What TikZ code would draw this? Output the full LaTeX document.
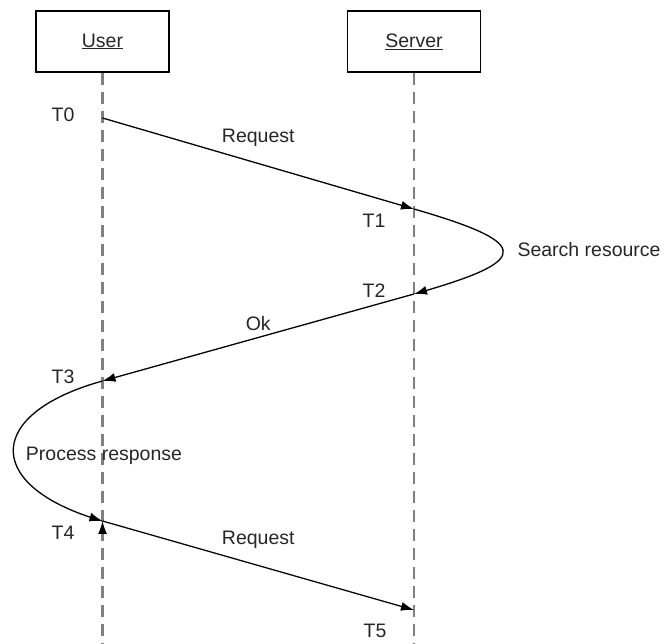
\documentclass[tikz,border=0pt]{standalone}
\usepackage{fontspec}
\setmainfont{Liberation Sans}
\usetikzlibrary{arrows.meta,bending}
\tikzset{
  obj/.style={
    draw,
    line width=1.8pt,
    minimum width=133pt,
    minimum height=61pt},
  life/.style={
    gray,
    line width=2.2pt,
    dash pattern=on 12pt off 7pt},
  msg/.style={
    -{Latex[length=13pt,width=9pt]},
    line width=1.3pt}
  }

\begin{document}
\begin{tikzpicture}[x=1pt,y=-1pt,font=\fontsize{19.5}{23}\selectfont,text=black!85]
    \useasboundingbox (0,0) rectangle (665,644);
    \node[obj] (user) at (102.5,41.5) {\underline{User}};
    \node[obj] (server) at (414,41.5) {\underline{Server}};
    \coordinate (userend) at (102.5,644);
    \coordinate (serverend) at (414,644);
    \draw [life]
    (user) edge[] (userend)
    (server) edge[] (serverend);
    \coordinate (t0) at (102.5,118);
    \coordinate (t1) at (414,209);
    \coordinate (t2) at (414,294);
    \coordinate (t3) at (102.5,381);
    \coordinate (t4) at (102.5,521);
    \coordinate (t5) at (414,610);
    \draw [msg]
    (t0) edge[] node[above=13pt]{Request} (t1)
    (t2) edge[] node[above=3pt]{Ok} (t3)
    (t4) edge[] node[above=13pt]{Request} (t5);
    \draw [msg] (t1) .. controls +(119,34.5) and +(119,-33.5) .. (t2);
    \draw [msg] (t3) .. controls +(-119,33) and +(-119,-34) .. (t4);
    \node[anchor=west] (search) at (514,250) {Search resource};
    \node (process) at (104,456) {Process response};
    \node () at (63,115) {T0};
    \node () at (374,221) {T1};
    \node () at (374,291) {T2};
    \node () at (63,377) {T3};
    \node () at (63,533) {T4};
    \node () at (375,631) {T5};
  \end{tikzpicture}
\end{document}
